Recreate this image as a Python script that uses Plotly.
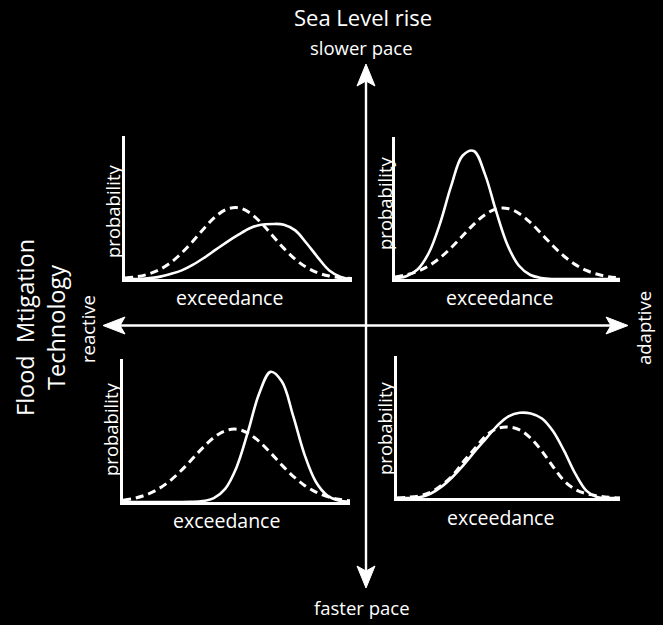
import plotly.graph_objects as go

W, H = 663, 625

# ---- data (x = exceedance 0..1, y = probability 0..1) ----
x_grid = [0.0, 0.05, 0.1, 0.15, 0.2, 0.25, 0.3, 0.35, 0.4, 0.45, 0.5,
          0.55, 0.6, 0.65, 0.7, 0.75, 0.8, 0.85, 0.9, 0.95, 1.0]

# top-left: slower pace / reactive
tl_dashed = [0.007, 0.015, 0.033, 0.064, 0.113, 0.182, 0.266, 0.357, 0.438, 0.489, 0.498,
             0.462, 0.392, 0.303, 0.214, 0.138, 0.081, 0.043, 0.021, 0.009, 0.004]
tl_solid = [0.0, 0.0, 0.005, 0.015, 0.035, 0.06, 0.1, 0.15, 0.205, 0.26, 0.31,
            0.355, 0.38, 0.385, 0.38, 0.34, 0.25, 0.15, 0.06, 0.015, 0.0]

# top-right: slower pace / adaptive
tr_dashed = [0.014, 0.029, 0.054, 0.093, 0.149, 0.221, 0.303, 0.385, 0.453, 0.493, 0.497,
             0.463, 0.40, 0.32, 0.237, 0.162, 0.103, 0.06, 0.033, 0.016, 0.008]
tr_solid = [0.005, 0.02, 0.067, 0.183, 0.39, 0.657, 0.868, 0.902, 0.737, 0.474, 0.24,
            0.095, 0.03, 0.007, 0.0, 0.0, 0.0, 0.0, 0.0, 0.0, 0.0]

# bottom-left: faster pace / reactive
bl_dashed = [0.013, 0.026, 0.049, 0.086, 0.139, 0.21, 0.292, 0.377, 0.45, 0.498, 0.509,
             0.482, 0.423, 0.344, 0.258, 0.18, 0.116, 0.069, 0.038, 0.019, 0.009]
bl_solid = [0.0, 0.0, 0.0, 0.0, 0.0, 0.0, 0.001, 0.006, 0.027, 0.092, 0.242,
            0.488, 0.759, 0.91, 0.842, 0.60, 0.33, 0.14, 0.046, 0.011, 0.002]

# bottom-right: faster pace / adaptive
br_dashed = [0.0, 0.005, 0.015, 0.04, 0.09, 0.16, 0.26, 0.35, 0.44, 0.49, 0.50,
             0.48, 0.42, 0.33, 0.22, 0.12, 0.06, 0.03, 0.015, 0.005, 0.0]
br_solid = [0.0, 0.0, 0.005, 0.03, 0.08, 0.15, 0.235, 0.33, 0.42, 0.51, 0.575,
            0.60, 0.595, 0.56, 0.47, 0.33, 0.17, 0.05, 0.005, 0.0, 0.0]

x_title = "exceedance"
y_title = "probability"
top_label = "slower pace"
bottom_label = "faster pace"
left_label = "reactive"
right_label = "adaptive"
v_axis_title = "Sea Level rise"
h_axis_title = "Flood\u00a0 Mtigation<br>Technology"

FONT = "Open Sans"


def px(x):
    return x / W


def py(y):
    return 1 - y / H


# panel boxes in pixels: (left, right, bottom, top)
panels = [
    (125, 352, 279, 136, tl_solid, tl_dashed, (112, 211), (229, 297)),
    (395, 620, 279, 137, tr_solid, tr_dashed, (384, 203), (499, 297)),
    (123, 350, 502, 359, bl_solid, bl_dashed, (110, 429), (226, 520)),
    (397, 620, 498, 356, br_solid, br_dashed, (384, 428), (500, 517)),
]

fig = go.Figure()
annotations = []
layout_axes = {}

for i, (l, r, b, t, solid, dashed, ppos, epos) in enumerate(panels, start=1):
    xa = "x" if i == 1 else f"x{i}"
    ya = "y" if i == 1 else f"y{i}"
    fig.add_trace(go.Scatter(x=x_grid, y=dashed, mode="lines", xaxis=xa, yaxis=ya,
                             line=dict(color="white", width=3, dash="8px,5px", shape="spline"),
                             showlegend=False, hoverinfo="skip"))
    fig.add_trace(go.Scatter(x=x_grid, y=solid, mode="lines", xaxis=xa, yaxis=ya,
                             line=dict(color="white", width=2.6, shape="spline"),
                             showlegend=False, hoverinfo="skip"))
    xk = "xaxis" if i == 1 else f"xaxis{i}"
    yk = "yaxis" if i == 1 else f"yaxis{i}"
    common = dict(showgrid=False, zeroline=False, showticklabels=False, ticks="",
                  showline=True, linecolor="white", linewidth=2.6, fixedrange=True)
    layout_axes[xk] = dict(domain=[px(l), px(r)], range=[0, 1], anchor=ya, **common)
    layout_axes[yk] = dict(domain=[py(b), py(t)], range=[0, 1], anchor=xa, **common)
    annotations.append(dict(text=y_title, x=px(ppos[0]), y=py(ppos[1]), xref="paper", yref="paper",
                            showarrow=False, textangle=-90, xanchor="center", yanchor="middle",
                            font=dict(family=FONT, size=18.5, color="white")))
    annotations.append(dict(text=x_title, x=px(epos[0]), y=py(epos[1]), xref="paper", yref="paper",
                            showarrow=False, xanchor="center", yanchor="middle",
                            font=dict(family=FONT, size=19.5, color="white")))

# big labels
annotations += [
    dict(text=v_axis_title, x=px(363), y=py(17), xref="paper", yref="paper", showarrow=False,
         xanchor="center", yanchor="middle", font=dict(family=FONT, size=22, color="white")),
    dict(text=top_label, x=px(362), y=py(48), xref="paper", yref="paper", showarrow=False,
         xanchor="center", yanchor="middle", font=dict(family=FONT, size=18.5, color="white")),
    dict(text=bottom_label, x=px(362), y=py(607), xref="paper", yref="paper", showarrow=False,
         xanchor="center", yanchor="middle", font=dict(family=FONT, size=18.5, color="white")),
    dict(text=left_label, x=px(87), y=py(329), xref="paper", yref="paper", showarrow=False,
         textangle=-90, xanchor="center", yanchor="middle", font=dict(family=FONT, size=18.5, color="white")),
    dict(text=right_label, x=px(643), y=py(328), xref="paper", yref="paper", showarrow=False,
         textangle=-90, xanchor="center", yanchor="middle", font=dict(family=FONT, size=18.5, color="white")),
    dict(text=h_axis_title, x=px(40), y=py(328), xref="paper", yref="paper", showarrow=False,
         textangle=-90, xanchor="center", yanchor="middle",
         font=dict(family=FONT, size=23.5, color="white")),
]

# cross arrows
VX, HY = 366, 325.5
shapes = [
    dict(type="line", xref="paper", yref="paper", x0=px(VX), x1=px(VX), y0=py(80), y1=py(572),
         line=dict(color="white", width=2.4)),
    dict(type="line", xref="paper", yref="paper", x0=px(118), x1=px(613), y0=py(HY), y1=py(HY),
         line=dict(color="white", width=2.4)),
]


def head(points):
    d = "M " + " L ".join(f"{px(a):.5f},{py(b):.5f}" for a, b in points) + " Z"
    return dict(type="path", xref="paper", yref="paper", path=d,
                fillcolor="white", line=dict(color="white", width=1))


shapes += [
    head([(VX, 64), (VX + 9, 86), (VX, 81), (VX - 9, 86)]),          # up
    head([(VX, 588), (VX + 9, 566), (VX, 571), (VX - 9, 566)]),      # down
    head([(103, HY), (125, HY - 8.5), (120, HY), (125, HY + 8.5)]),  # left
    head([(628, HY), (606, HY - 8.5), (611, HY), (606, HY + 8.5)]),  # right
]

fig.update_layout(
    width=W, height=H, margin=dict(l=0, r=0, t=0, b=0),
    paper_bgcolor="black", plot_bgcolor="black",
    annotations=annotations, shapes=shapes, showlegend=False,
    **layout_axes,
)

fig.write_html(
    "out.html",
    config={"displayModeBar": False},
    post_script="document.body.style.margin='0';document.body.style.padding='0';"
                "document.body.style.background='black';document.body.style.overflow='hidden';",
)
